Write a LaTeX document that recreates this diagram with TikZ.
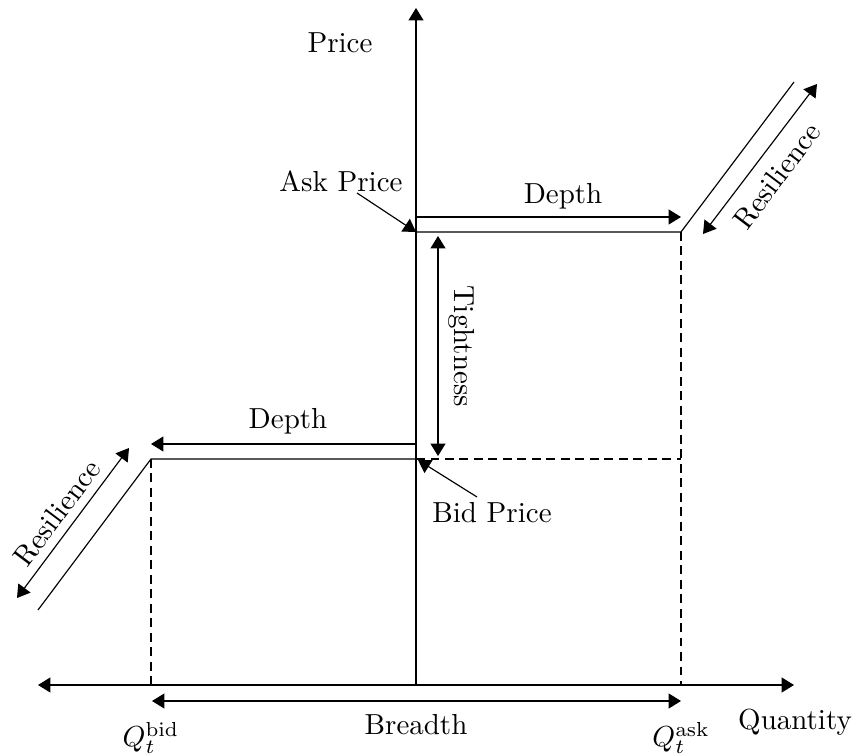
\documentclass[tikz,border=0pt]{standalone}
\usetikzlibrary{arrows.meta}
\begin{document}
\begin{tikzpicture}[x=0.345pt,y=-0.345pt,
  tip/.style={-{Triangle[length=4.3pt,width=5.2pt]}},
  tips/.style={{Triangle[length=4.3pt,width=5.2pt]}-{Triangle[length=4.3pt,width=5.2pt]}},
  guide/.style={dash pattern=on 3pt off 2pt},
  lbl/.style={inner sep=0pt},
  every path/.style={line width=0.4pt}]
\useasboundingbox (0,0) rectangle (852,755);
% coordinates
\coordinate (O) at (416,685);
\coordinate (Ptop) at (416,8);
\coordinate (Xl) at (38,685);
\coordinate (Xr) at (794,685);
\coordinate (A) at (416,232);
\coordinate (Aq) at (681,232);
\coordinate (Ar) at (794,82);
\coordinate (B) at (416,459);
\coordinate (Bq) at (151,459);
\coordinate (Bl) at (38,610);
\coordinate (Qb) at (151,685);
\coordinate (Qa) at (681,685);
\coordinate (Bd) at (681,459);
\coordinate (BrL) at (152,701);
\coordinate (BrR) at (681,701);
\coordinate (DaL) at (416,217);
\coordinate (DaR) at (681,217);
\coordinate (DbR) at (416,444);
\coordinate (DbL) at (151,444);
\coordinate (TiT) at (438,236);
\coordinate (TiB) at (438,456);
\coordinate (RaL) at (703,234);
\coordinate (RaU) at (817,84);
\coordinate (RbU) at (129,448);
\coordinate (RbL) at (17,598);
\coordinate (askS) at (357,193);
\coordinate (bidS) at (477,497);
\coordinate (bidT) at (418,460);
% axes
\draw[tip] (O) -- (Ptop);
\draw[tips] (Xl) -- (Xr);
% book
\draw (A) -- (Aq) -- (Ar);
\draw (B) -- (Bq) -- (Bl);
\draw[guide] (B) -- (Bd);
\draw[guide] (Aq) -- (Qa);
\draw[guide] (Bq) -- (Qb);
% measures
\draw[tip] (DaL) -- (DaR);
\draw[tip] (DbR) -- (DbL);
\draw[tips] (TiT) -- (TiB);
\draw[tips] (RaL) -- (RaU);
\draw[tips] (RbU) -- (RbL);
\draw[tips] (BrL) -- (BrR);
% labels
\node[lbl] (price) at (340,43) {Price};
\node[lbl] (quantity) at (795,722) {Quantity};
\node[lbl] (breadth) at (416,725) {Breadth};
\node[lbl] (qbid) at (151,738) {$Q_t^{\mathrm{bid}}$};
\node[lbl] (qask) at (681,738) {$Q_t^{\mathrm{ask}}$};
\node[lbl] (depthA) at (563,196) {Depth};
\node[lbl] (depthB) at (288,421) {Depth};
\node[lbl,rotate=-90] (tight) at (462,346) {Tightness};
\node[lbl,rotate=53] (resA) at (777,176) {Resilience};
\node[lbl,rotate=53] (resB) at (57,513) {Resilience};
\node[lbl] (askp) at (341,181) {Ask Price};
\node[lbl] (bidp) at (492,513) {Bid Price};
\draw[tip] (askS) -- (A);
\draw[tip] (bidS) -- (bidT);
\end{tikzpicture}
\end{document}
